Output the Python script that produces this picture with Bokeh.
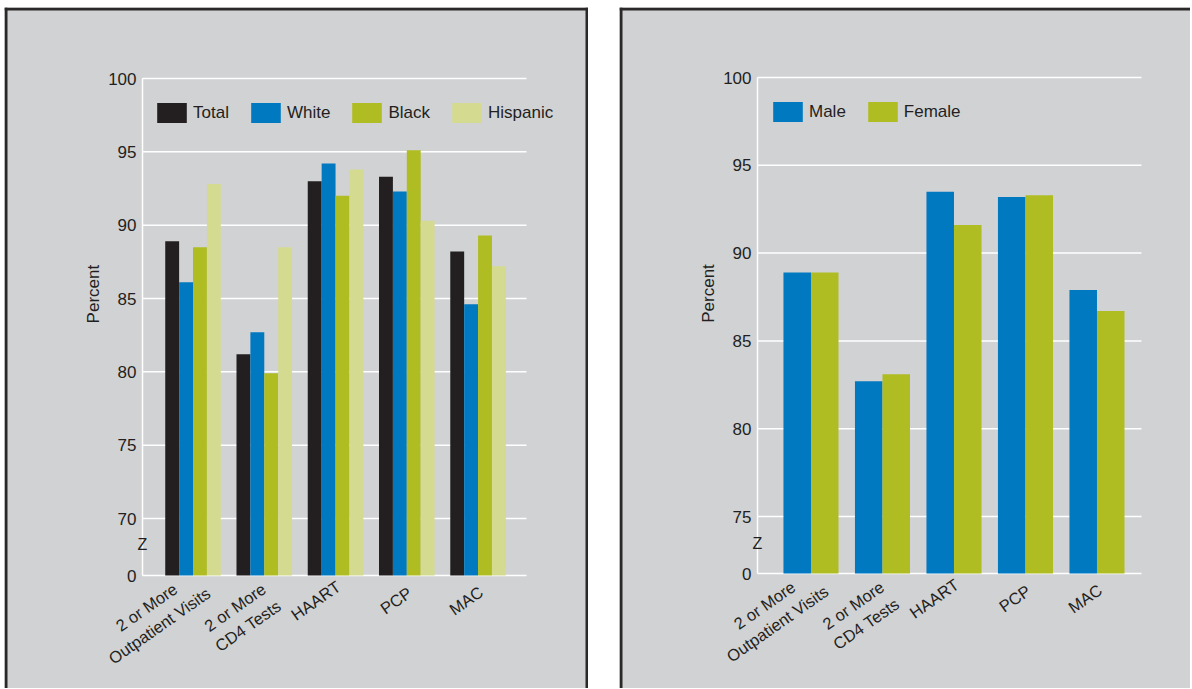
import numpy as np
from bokeh.plotting import figure
from bokeh.models import (ColumnDataSource, FixedTicker, Label, BoxAnnotation,
                          Legend, LegendItem, Range1d)
from bokeh.layouts import row
from bokeh.embed import file_html
from bokeh.resources import INLINE

# ---------------- data ----------------
categories = ["2 or More\nOutpatient Visits", "2 or More\nCD4 Tests", "HAART", "PCP", "MAC"]

race_series = ["Total", "White", "Black", "Hispanic"]
total = [88.9, 81.2, 93.0, 93.3, 88.2]
white = [86.1, 82.7, 94.2, 92.3, 84.6]
black = [88.5, 79.9, 92.0, 95.1, 89.3]
hispanic = [92.8, 88.5, 93.8, 90.3, 87.2]

sex_series = ["Male", "Female"]
male = [88.9, 82.7, 93.5, 93.2, 87.9]
female = [88.9, 83.1, 91.6, 93.3, 86.7]

left_ticks = [70, 75, 80, 85, 90, 95, 100]
right_ticks = [75, 80, 85, 90, 95, 100]
axis_title = "Percent"
break_mark = "Z"
zero_label = "0"

# ---------------- style ----------------
FONT = "Liberation Sans"
TEXT = "#231f20"
BG = "#d1d2d4"
BORDER = "#2b2829"
C_TOTAL = "#231f20"
C_BLUE = "#0079c1"
C_GREEN = "#afbd22"
C_LIGHT = "#d4db91"
ANG = np.deg2rad(35)

# Arial / Liberation Sans advance widths (per 1000 em)
CW = {" ": 278, "2": 556, "4": 556, "o": 556, "r": 333, "M": 833, "e": 556, "O": 778,
      "u": 556, "t": 278, "p": 556, "a": 556, "i": 222, "n": 556, "V": 667, "s": 500,
      "C": 722, "D": 722, "T": 611, "H": 722, "A": 667, "R": 722, "P": 667}


def text_w(s, size):
    return sum(CW.get(c, 556) for c in s) * size / 1000.0


def make_panel(names, values, colors, ticks, geo, bar_w, legend_loc, legend_spacing,
               z_val, pct_val, sides):
    # geo: canvas left/top/width/height on page, axis x on page, first-tick and top-tick
    # page y, base page y, x data at axis, px per x unit, plot width in px
    CL, CT, CWd, CH = geo["canvas"]
    AX, XA, PXX, PW = geo["ax"], geo["xa"], geo["pxx"], geo["pw"]
    t0, t0y, t1y, BY = ticks[0], geo["t0y"], geo["t1y"], geo["by"]
    PXY = (t0y - t1y) / (ticks[-1] - t0)
    base = t0 - (BY - t0y) / PXY

    x_start = XA - (AX - CL) / PXX
    x_end = XA + (CL + CWd - AX) / PXX
    y_end = ticks[-1] + (t1y - CT) / PXY
    y_start = ticks[-1] - (CT + CH - t1y) / PXY

    p = figure(width=CWd, height=CH, x_range=Range1d(x_start, x_end),
               y_range=Range1d(y_start, y_end), output_backend="svg",
               toolbar_location=None, title=None, min_border=0)
    p.background_fill_color = BG
    p.border_fill_color = BG
    p.outline_line_color = None
    p.xgrid.visible = False
    p.ygrid.visible = False
    p.xaxis.visible = False

    # grid lines limited to the plotting area
    gy = [base] + list(ticks)
    x_grid_end = XA + PW / PXX
    p.segment(x0=[XA] * len(gy), x1=[x_grid_end] * len(gy), y0=gy, y1=gy,
              line_color="white", line_width=1.5)

    # bars
    idx = np.arange(len(categories))
    n = len(names)
    items = []
    for k, (nm, vals, col) in enumerate(zip(names, values, colors)):
        off = (k - (n - 1) / 2.0) * bar_w
        src = ColumnDataSource(dict(x=idx + off, top=vals))
        r = p.vbar(x="x", top="top", bottom=base, width=bar_w, source=src,
                   fill_color=col, line_color=None)
        items.append(LegendItem(label=nm, renderers=[r]))

    # y axis at a fixed location inside the canvas
    ticker = FixedTicker(ticks=[base] + list(ticks))
    ax = p.yaxis[0]
    ax.fixed_location = XA
    ax.bounds = (base, ticks[-1])
    ax.ticker = ticker
    ax.major_label_overrides = {base: zero_label}
    ax.axis_line_color = "white"
    ax.axis_line_width = 1.5
    ax.major_tick_line_color = None
    ax.minor_tick_line_color = None
    ax.major_tick_out = 0
    ax.major_tick_in = 0
    ax.major_label_standoff = 6
    ax.major_label_text_font = FONT
    ax.major_label_text_font_size = "17px"
    ax.major_label_text_color = TEXT

    # legend
    legend = Legend(items=items, location=legend_loc, orientation="horizontal",
                    background_fill_alpha=0, border_line_color=None, padding=0, margin=0,
                    spacing=legend_spacing, glyph_width=37, glyph_height=25,
                    label_standoff=3, label_text_font=FONT, label_text_font_size="17px",
                    label_text_color=TEXT, label_height=25)
    p.add_layout(legend)

    # break mark and axis title
    p.add_layout(Label(x=XA, y=z_val, text=break_mark, text_align="center",
                       text_baseline="middle", text_font=FONT, text_font_size="16px",
                       text_color=TEXT))
    p.add_layout(Label(x=XA - 49.0 / PXX, y=pct_val, text=axis_title, angle=np.pi / 2,
                       text_align="center", text_baseline="middle", text_font=FONT,
                       text_font_size="17px", text_color=TEXT))

    # rotated category labels
    fs = 16.5
    for g, cat in enumerate(categories):
        lines = cat.split("\n")
        W = max(text_w(l, fs) for l in lines)
        H = 21.0 * len(lines)
        dx = -(W / 2) * np.cos(ANG) + (H / 2) * np.sin(ANG) - 3
        dy = 0.76 * H + 9
        p.add_layout(Label(x=g + dx / PXX, y=base - dy / PXY, text=cat, angle=ANG,
                           text_align="center", text_baseline="middle", text_font=FONT,
                           text_font_size="%.1fpx" % fs, text_color=TEXT,
                           text_line_height=1.25))

    # panel border (canvas px -> data)
    def xd(cx):
        return x_start + cx / PXX

    def yd(cy):
        return y_end - cy / PXY

    T = 3
    boxes = {"left": (0, T, 0, CH), "top": (0, CWd, 0, T), "right": (CWd - T, CWd, 0, CH)}
    for s in sides:
        l, r, t, b = boxes[s]
        p.add_layout(BoxAnnotation(left=xd(l), right=xd(r), top=yd(t), bottom=yd(b),
                                   fill_color=BORDER, fill_alpha=1, line_color=None,
                                   level="overlay"))
    return p


geo_left = dict(canvas=(4, 7, 584, 681), ax=142, xa=-0.709, pxx=71.26, pw=384,
                t0y=518, t1y=78, by=575)
geo_right = dict(canvas=(619, 7, 571, 681), ax=757, xa=-0.748, pxx=71.5, pw=384,
                 t0y=516, t1y=77, by=573)

p1 = make_panel(race_series, [total, white, black, hispanic],
                [C_TOTAL, C_BLUE, C_GREEN, C_LIGHT], left_ticks, geo_left,
                bar_w=0.195, legend_loc=(149, 681 - 118), legend_spacing=18,
                z_val=68.23, pct_val=85.3, sides=["left", "top", "right"])

p2 = make_panel(sex_series, [male, female], [C_BLUE, C_GREEN], right_ticks, geo_right,
                bar_w=0.385, legend_loc=(150, 681 - 117), legend_spacing=18,
                z_val=73.49, pct_val=87.7, sides=["left", "top"])

layout = row(p1, p2, spacing=31, margin=(7, 0, 0, 4))

open("out.html", "w").write(file_html(layout, INLINE))
